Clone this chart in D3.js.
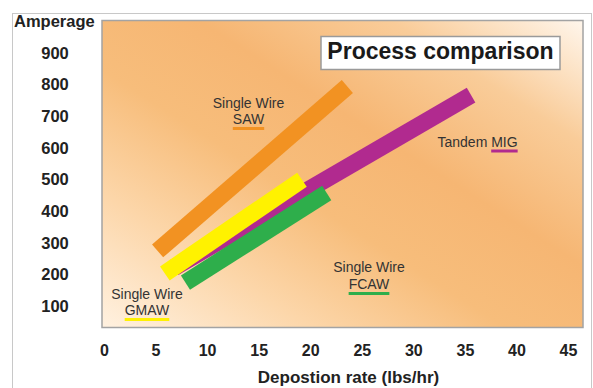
<!DOCTYPE html>
<html>
<head>
<meta charset="utf-8">
<script src="https://cdn.jsdelivr.net/npm/d3@7"></script>
<style>
  body { margin: 0; background: #fff; }
  svg { display: block; font-family: "Liberation Sans", Arial, sans-serif; }
  .tick text { font-weight: bold; fill: #222; }
  .note { font-size: 14px; fill: #333; }
</style>
</head>
<body>
<div id="chart"></div>
<script>
// data
const xTicks = [0, 5, 10, 15, 20, 25, 30, 35, 40, 45];
const yTicks = [100, 200, 300, 400, 500, 600, 700, 800, 900];
const processes = ["SAW", "Tandem MIG", "FCAW", "GMAW"];
const startRate = [5.2, 6.8, 7.9, 5.9];
const startAmps = [275, 222, 175, 204];
const endRate = [23.6, 35.6, 21.6, 19.2];
const endAmps = [794, 767, 458, 500];
const colors = ["#f29222", "#b12a8f", "#2eae4b", "#fff200"];

const W = 593, H = 388;

const svg = d3.select("#chart").append("svg")
    .attr("width", W)
    .attr("height", H);

// outer frame
svg.append("rect")
    .attr("x", 12.5).attr("y", 13.5)
    .attr("width", 579).attr("height", 400)
    .attr("fill", "#fff")
    .attr("stroke", "#c8c8c8")
    .attr("stroke-width", 1);

const x = d3.scaleLinear().domain([0, 45]).range([104, 568]);
const y = d3.scaleLinear().domain([0, 1000]).range([338, 21.3]);

// background gradient of the plot area
const defs = svg.append("defs");
const grad = defs.append("linearGradient")
    .attr("id", "bg")
    .attr("x1", 0).attr("y1", 1)
    .attr("x2", 1).attr("y2", 0);
[[0, "#fff1e0"], [0.22, "#fcd6a9"], [0.42, "#f7bd7b"], [0.6, "#f6b673"],
 [0.8, "#f9cc99"], [1, "#fff6ec"]].forEach(s => {
    grad.append("stop").attr("offset", s[0]).attr("stop-color", s[1]);
});

// plot area
svg.append("rect")
    .attr("x", 102).attr("y", 20.5)
    .attr("width", 481).attr("height", 307)
    .attr("fill", "url(#bg)")
    .attr("stroke", "#a3a3a3")
    .attr("stroke-width", 1.5);

// title box
svg.append("rect")
    .attr("x", 321).attr("y", 36.5)
    .attr("width", 239).attr("height", 33)
    .attr("fill", "#fff")
    .attr("stroke", "#9a9a9a")
    .attr("stroke-width", 1.5);

svg.append("text")
    .attr("x", 440.5).attr("y", 59)
    .attr("text-anchor", "middle")
    .style("font-size", "23px")
    .style("font-weight", "bold")
    .style("fill", "#1a1a1a")
    .text("Process comparison");

// bands
const order = [0, 1, 2, 3];
svg.selectAll(".band")
    .data(order)
    .enter()
    .append("line")
    .attr("class", "band")
    .attr("x1", i => x(startRate[i]))
    .attr("y1", i => y(startAmps[i]))
    .attr("x2", i => x(endRate[i]))
    .attr("y2", i => y(endAmps[i]))
    .attr("stroke", i => colors[i])
    .attr("stroke-width", 17)
    .attr("stroke-linecap", "butt");

// X axis
const xAxis = svg.append("g")
    .attr("transform", "translate(0,345)")
    .call(d3.axisBottom(x).tickValues(xTicks).tickSize(0).tickPadding(0));
xAxis.select(".domain").remove();
xAxis.selectAll("text").style("font-size", "16px").attr("font-family", null);

// Y axis
const yAxis = svg.append("g")
    .attr("transform", "translate(55,0)")
    .call(d3.axisLeft(y).tickValues(yTicks).tickSize(0).tickPadding(0));
yAxis.select(".domain").remove();
yAxis.selectAll("text")
    .attr("text-anchor", "middle")
    .style("font-size", "16.5px")
    .attr("font-family", null);

svg.append("text")
    .attr("x", 14).attr("y", 26.5)
    .style("font-size", "16.5px")
    .style("font-weight", "bold")
    .style("fill", "#222")
    .text("Amperage");

svg.append("text")
    .attr("x", 348.5).attr("y", 383)
    .attr("text-anchor", "middle")
    .style("font-size", "17px")
    .style("font-weight", "bold")
    .style("fill", "#222")
    .text("Depostion rate (lbs/hr)");

// labels with coloured underline
function note(cx, y1, y2, name, color) {
    svg.append("text").attr("class", "note")
        .attr("x", cx).attr("y", y1)
        .attr("text-anchor", "middle")
        .text("Single Wire");
    const t = svg.append("text").attr("class", "note")
        .attr("x", cx).attr("y", y2)
        .attr("text-anchor", "middle")
        .text(name);
    const w = t.node().getComputedTextLength();
    svg.append("line")
        .attr("x1", cx - w / 2).attr("x2", cx + w / 2)
        .attr("y1", y2 + 4.5).attr("y2", y2 + 4.5)
        .attr("stroke", color)
        .attr("stroke-width", 3);
}
note(248.5, 108, 124, processes[0], colors[0]);
note(369, 272, 289, processes[2], colors[2]);
note(147, 299, 315, processes[3], colors[3]);

const mig = svg.append("text").attr("class", "note")
    .attr("x", 437.5).attr("y", 146.5);
mig.append("tspan").text("Tandem ");
const migName = mig.append("tspan").text("MIG");
const mBox = migName.node().getBBox();
svg.append("line")
    .attr("x1", mBox.x).attr("x2", mBox.x + mBox.width)
    .attr("y1", 151).attr("y2", 151)
    .attr("stroke", colors[1])
    .attr("stroke-width", 3);
</script>
</body>
</html>
